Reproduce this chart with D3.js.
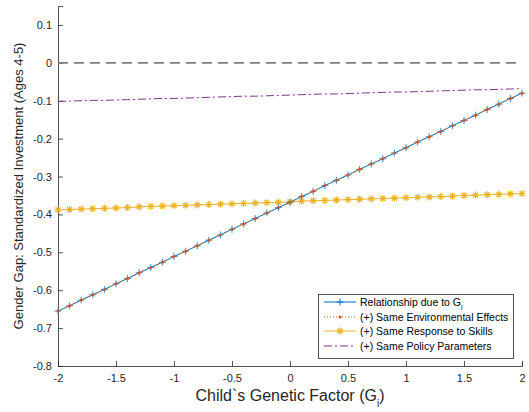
<!DOCTYPE html>
<html><head><meta charset="utf-8">
<script src="https://cdn.jsdelivr.net/npm/d3@7"></script>
<style>body{margin:0;background:#fff}svg{display:block;font-family:"Liberation Sans",Arial,sans-serif}</style>
</head><body>
<svg id="c" width="529" height="412"></svg>
<script>
const xValues = [-2.0,-1.9,-1.8,-1.7,-1.6,-1.5,-1.4,-1.3,-1.2,-1.1,-1.0,-0.9,-0.8,-0.7,-0.6,-0.5,-0.4,-0.3,-0.2,-0.1,0.0,0.1,0.2,0.3,0.4,0.5,0.6,0.7,0.8,0.9,1.0,1.1,1.2,1.3,1.4,1.5,1.6,1.7,1.8,1.9,2.0];
const relationship = [-0.655,-0.641,-0.626,-0.612,-0.598,-0.583,-0.569,-0.554,-0.540,-0.526,-0.511,-0.497,-0.483,-0.468,-0.454,-0.439,-0.425,-0.411,-0.396,-0.382,-0.368,-0.353,-0.339,-0.324,-0.310,-0.296,-0.281,-0.267,-0.253,-0.238,-0.224,-0.209,-0.195,-0.181,-0.166,-0.152,-0.138,-0.123,-0.109,-0.094,-0.080];
const sameEnvironmental = [-0.655,-0.641,-0.626,-0.612,-0.598,-0.583,-0.569,-0.554,-0.540,-0.526,-0.511,-0.497,-0.483,-0.468,-0.454,-0.439,-0.425,-0.411,-0.396,-0.382,-0.368,-0.353,-0.339,-0.324,-0.310,-0.296,-0.281,-0.267,-0.253,-0.238,-0.224,-0.209,-0.195,-0.181,-0.166,-0.152,-0.138,-0.123,-0.109,-0.094,-0.080];
const sameResponse = [-0.388,-0.387,-0.386,-0.385,-0.384,-0.383,-0.382,-0.380,-0.379,-0.378,-0.377,-0.376,-0.375,-0.374,-0.373,-0.372,-0.371,-0.370,-0.369,-0.368,-0.367,-0.365,-0.364,-0.363,-0.362,-0.361,-0.360,-0.359,-0.358,-0.357,-0.356,-0.355,-0.354,-0.353,-0.352,-0.350,-0.349,-0.348,-0.347,-0.346,-0.345];
const samePolicy = [-0.102,-0.101,-0.100,-0.099,-0.099,-0.098,-0.097,-0.096,-0.095,-0.094,-0.094,-0.093,-0.092,-0.091,-0.090,-0.089,-0.088,-0.088,-0.087,-0.086,-0.085,-0.084,-0.083,-0.082,-0.082,-0.081,-0.080,-0.079,-0.078,-0.077,-0.077,-0.076,-0.075,-0.074,-0.073,-0.072,-0.071,-0.071,-0.070,-0.069,-0.068];
const xTicks = [-2,-1.5,-1,-0.5,0,0.5,1,1.5,2];
const yTicks = [0.1,0,-0.1,-0.2,-0.3,-0.4,-0.5,-0.6,-0.7,-0.8];
const legendLabels = ["Relationship due to G","(+) Same Environmental Effects","(+) Same Response to Skills","(+) Same Policy Parameters"];

const svg = d3.select("#c");
const x = d3.scaleLinear().domain([-2,2]).range([58,522]);
const y = d3.scaleLinear().domain([-0.8,0.15]).range([366,6]);
const fmt = d => (d===0?"0":String(d));

// axes
const gx = svg.append("g").attr("transform","translate(0,366)")
  .call(d3.axisBottom(x).tickValues(xTicks).tickSize(-5).tickPadding(8).tickFormat(fmt));
const gy = svg.append("g").attr("transform","translate(58,0)")
  .call(d3.axisLeft(y).tickValues(yTicks).tickSize(-5).tickPadding(6).tickFormat(fmt));
[gx,gy].forEach(g=>{
  g.select(".domain").attr("stroke","#262626").attr("stroke-width",0.8);
  g.selectAll(".tick line").attr("stroke","#262626").attr("stroke-width",0.8);
  g.selectAll(".tick text").attr("fill","#262626").style("font-size","11px").style("font-family","Liberation Sans, Arial, sans-serif");
});

// zero line
svg.append("line").attr("x1",x(-2)).attr("x2",x(2)).attr("y1",y(0)).attr("y2",y(0))
  .attr("stroke","#808080").attr("stroke-width",1.6).attr("stroke-dasharray","10,6");

const line = d3.line().x((d,i)=>x(xValues[i])).y(d=>y(d));

// policy
svg.append("path").datum(samePolicy).attr("d",line).attr("fill","none")
  .attr("stroke","#7E2F8E").attr("stroke-width",1).attr("stroke-dasharray","8,3,2,3");

// response (yellow with stars)
svg.append("path").datum(sameResponse).attr("d",line).attr("fill","none")
  .attr("stroke","#EDB120").attr("stroke-width",1);
const gS = svg.append("g");
sameResponse.forEach((v,i)=>{
  const cx=x(xValues[i]), cy=y(v);
  const s=3.5;
  [[s,0],[s*0.71,s*0.71],[-s*0.71,s*0.71],[0,s]].forEach(([dx,dy])=>{
    gS.append("line").attr("x1",cx-dx).attr("y1",cy-dy).attr("x2",cx+dx).attr("y2",cy+dy)
      .attr("stroke","#EDB120").attr("stroke-width",1.2);
  });
});

// relationship (blue with +)
svg.append("path").datum(relationship).attr("d",line).attr("fill","none")
  .attr("stroke","#0072BD").attr("stroke-width",1);
const gP = svg.append("g");
relationship.forEach((v,i)=>{
  const cx=x(xValues[i]), cy=y(v), s=3.5;
  gP.append("line").attr("x1",cx-s).attr("x2",cx+s).attr("y1",cy).attr("y2",cy).attr("stroke","#3a8fcf").attr("stroke-width",1);
  gP.append("line").attr("x1",cx).attr("x2",cx).attr("y1",cy-s).attr("y2",cy+s).attr("stroke","#3a8fcf").attr("stroke-width",1);
});

// environmental (orange dotted with dots)
svg.append("path").datum(sameEnvironmental).attr("d",line).attr("fill","none")
  .attr("stroke","#D95319").attr("stroke-width",1).attr("stroke-dasharray","1,2");
svg.append("g").selectAll("circle").data(sameEnvironmental).join("circle")
  .attr("cx",(d,i)=>x(xValues[i])).attr("cy",d=>y(d)).attr("r",1.5).attr("fill","#D95319");

// axis titles
svg.append("text").attr("x",290).attr("y",401).attr("text-anchor","middle")
  .style("font-size","16px").attr("fill","#262626")
  .html('Child`s Genetic Factor (G<tspan baseline-shift="sub" font-size="10px">i</tspan>)');
svg.append("text").attr("transform","translate(23,186) rotate(-90)").attr("text-anchor","middle")
  .style("font-size","13px").attr("fill","#262626")
  .text("Gender Gap: Standardized Investment (Ages 4-5)");

// legend
const lg = svg.append("g");
lg.append("rect").attr("x",318.5).attr("y",294.5).attr("width",195).attr("height",64)
  .attr("fill","#fff").attr("stroke","#262626").attr("stroke-width",0.8);
const rows=[302,317,331,346];
const lx1=324, lx2=356, lm=340;
// row 0
lg.append("line").attr("x1",lx1).attr("x2",lx2).attr("y1",rows[0]).attr("y2",rows[0]).attr("stroke","#0072BD");
lg.append("line").attr("x1",lm-3.5).attr("x2",lm+3.5).attr("y1",rows[0]).attr("y2",rows[0]).attr("stroke","#0072BD");
lg.append("line").attr("x1",lm).attr("x2",lm).attr("y1",rows[0]-3.5).attr("y2",rows[0]+3.5).attr("stroke","#0072BD");
// row 1
lg.append("line").attr("x1",lx1).attr("x2",lx2).attr("y1",rows[1]).attr("y2",rows[1]).attr("stroke","#D95319").attr("stroke-dasharray","1,2");
lg.append("circle").attr("cx",lm).attr("cy",rows[1]).attr("r",1.5).attr("fill","#D95319");
// row 2
lg.append("line").attr("x1",lx1).attr("x2",lx2).attr("y1",rows[2]).attr("y2",rows[2]).attr("stroke","#EDB120");
[[3.5,0],[2.5,2.5],[-2.5,2.5],[0,3.5]].forEach(([dx,dy])=>{
  lg.append("line").attr("x1",lm-dx).attr("y1",rows[2]-dy).attr("x2",lm+dx).attr("y2",rows[2]+dy).attr("stroke","#EDB120").attr("stroke-width",1.2);
});
// row 3
lg.append("line").attr("x1",lx1).attr("x2",lx2).attr("y1",rows[3]).attr("y2",rows[3]).attr("stroke","#7E2F8E").attr("stroke-dasharray","8,3,2,3");
legendLabels.forEach((t,i)=>{
  const tx = lg.append("text").attr("x",360).attr("y",rows[i]+3.5).style("font-size","10.5px").attr("fill","#000").text(t);
  if(i===0) tx.append("tspan").attr("baseline-shift","sub").style("font-size","7px").text("i");
});
</script>
</body></html>
